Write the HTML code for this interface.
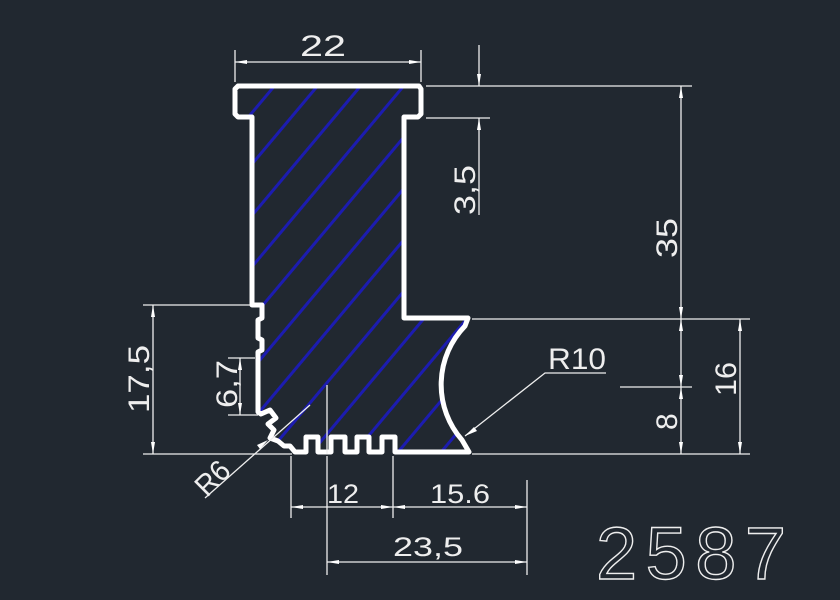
<!DOCTYPE html>
<html><head><meta charset="utf-8"><style>
html,body{margin:0;padding:0;background:#212830;}
svg{display:block}
text{font-family:"Liberation Sans",sans-serif;fill:#eee;}
</style></head><body>
<svg width="840" height="600" viewBox="0 0 840 600" xmlns="http://www.w3.org/2000/svg">
<rect width="840" height="600" fill="#212830"/>
<defs>
<pattern id="h" patternUnits="userSpaceOnUse" width="33" height="33" patternTransform="rotate(-50)">
<rect x="0" y="0" width="33" height="3" fill="#1c1cb0"/>
</pattern>
<clipPath id="c"><path id="prof" d="M238,86 L419,86 L421,89 L421,114 L418,117 L404,117 L404,318 L468,318 L465,326 A84,84 0 0 0 462,440 L469,452 L395,452 L395,437 L382,437 L382,452 L369,452 L369,437 L357,437 L357,452 L345,452 L345,437 L331,437 L331,452 L318,452 L318,437 L306,437 L306,452 L295,452 L290,446 L284,446 L278,441 L270,438 L274,430 L268,424 L276,418 L270,410 L261,414 L258,412 L258,352 L262,350 L262,340 L258,338 L258,320 L262,318 L262,305 L252,305 L252,117 L238,117 L235,114 L235,89 Z"/></clipPath>
</defs>
<rect x="220" y="80" width="260" height="380" fill="url(#h)" clip-path="url(#c)"/>
<use href="#prof" fill="none" stroke="#fff" stroke-width="5" stroke-linejoin="round"/>
<g stroke="#eee" stroke-width="1.3" fill="none">
<line x1="235" y1="50" x2="235" y2="82"/><line x1="421" y1="50" x2="421" y2="82"/>
<line x1="235" y1="62" x2="421" y2="62"/>
<line x1="426" y1="86" x2="692" y2="86"/><line x1="426" y1="118" x2="490" y2="118"/>
<line x1="479" y1="45" x2="479" y2="86"/><line x1="479" y1="118" x2="479" y2="215"/>
<line x1="681" y1="86" x2="681" y2="454"/>
<line x1="472" y1="319" x2="750" y2="319"/><line x1="472" y1="454" x2="750" y2="454"/>
<line x1="620" y1="387" x2="692" y2="387"/>
<line x1="740" y1="319" x2="740" y2="454"/>
<line x1="143" y1="305" x2="250" y2="305"/><line x1="143" y1="454" x2="292" y2="454"/>
<line x1="153" y1="305" x2="153" y2="454"/>
<line x1="228" y1="358" x2="255" y2="358"/><line x1="228" y1="415" x2="258" y2="415"/>
<line x1="240" y1="358" x2="240" y2="415"/>
<line x1="205" y1="498" x2="310" y2="405"/>
<line x1="327" y1="385" x2="327" y2="454"/>
<polyline points="465,436 545,373 606,373"/>
<line x1="291" y1="456" x2="291" y2="518"/><line x1="327" y1="456" x2="327" y2="575"/>
<line x1="393" y1="456" x2="393" y2="518"/><line x1="527" y1="480" x2="527" y2="575"/>
<line x1="291" y1="507" x2="527" y2="507"/><line x1="327" y1="562" x2="527" y2="562"/>
</g>
<g fill="#fff">
<polygon points="235,62 247,60 247,64"/><polygon points="421,62 409,60 409,64"/>
<polygon points="479,86 477,74 481,74"/><polygon points="479,118 477,130 481,130"/>
<polygon points="681,86 679,98 683,98"/><polygon points="681,319 679,307 683,307"/>
<polygon points="681,319 679,331 683,331"/>
<polygon points="681,387 679,375 683,375"/><polygon points="681,387 679,399 683,399"/>
<polygon points="681,454 679,442 683,442"/>
<polygon points="740,319 738,331 742,331"/><polygon points="740,454 738,442 742,442"/>
<polygon points="153,305 151,317 155,317"/><polygon points="153,454 151,442 155,442"/>
<polygon points="240,358 238,370 242,370"/><polygon points="240,415 238,403 242,403"/>
<polygon points="268,440 257,445 260,449"/>
<polygon points="465,436 474,427 477,431"/>
<polygon points="291,507 303,505 303,509"/><polygon points="393,507 381,505 381,509"/>
<polygon points="393,507 405,505 405,509"/><polygon points="527,507 515,505 515,509"/>
<polygon points="327,562 339,560 339,564"/><polygon points="527,562 515,560 515,564"/>
</g>
<g font-size="30" lengthAdjust="spacingAndGlyphs">
<text x="300" y="56" textLength="46" lengthAdjust="spacingAndGlyphs">22</text>
<text transform="translate(475,215) rotate(-90)" textLength="50" lengthAdjust="spacingAndGlyphs">3,5</text>
<text transform="translate(677,258) rotate(-90)" textLength="40" lengthAdjust="spacingAndGlyphs">35</text>
<text transform="translate(677,430) rotate(-90)">8</text>
<text transform="translate(736,396) rotate(-90)" textLength="34" lengthAdjust="spacingAndGlyphs">16</text>
<text transform="translate(149,413) rotate(-90)" textLength="68" lengthAdjust="spacingAndGlyphs">17,5</text>
<text transform="translate(237,408) rotate(-90)" textLength="48" lengthAdjust="spacingAndGlyphs">6,7</text>
<text transform="translate(207,498) rotate(-45)" textLength="36" lengthAdjust="spacingAndGlyphs">R6</text>
<text x="548" y="369" textLength="58" lengthAdjust="spacingAndGlyphs">R10</text>
<text x="327" y="503" textLength="32" font-size="27" lengthAdjust="spacingAndGlyphs">12</text>
<text x="430" y="503" textLength="60" font-size="27" lengthAdjust="spacingAndGlyphs">15.6</text>
<text x="393" y="556" textLength="70" font-size="27" lengthAdjust="spacingAndGlyphs">23,5</text>
</g>
<text x="596" y="579" font-size="74" textLength="190" lengthAdjust="spacing" style="fill:none;stroke:#eee;stroke-width:1.4">2587</text>
</svg>
</body></html>
